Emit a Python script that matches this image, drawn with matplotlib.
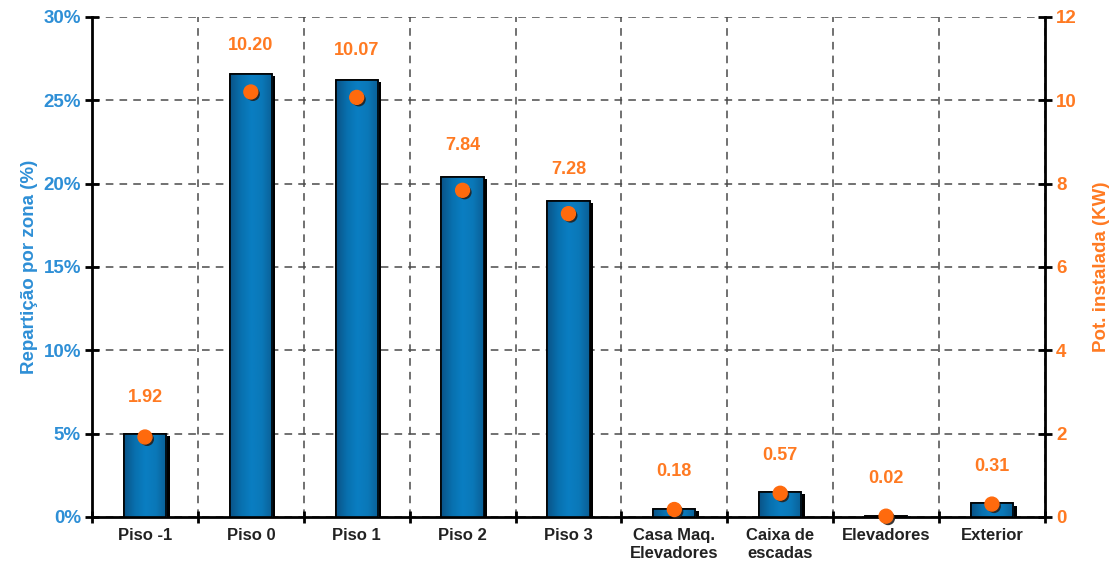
import numpy as np
import matplotlib.pyplot as plt
import matplotlib.patheffects as pe
from matplotlib.colors import LinearSegmentedColormap

plt.rcParams['font.family'] = ['Liberation Sans', 'DejaVu Sans']
plt.rcParams['font.weight'] = 'bold'

# zones, share per zone (%) and installed power (kW)
zonas = ['Piso -1', 'Piso 0', 'Piso 1', 'Piso 2', 'Piso 3',
         'Casa Maq.\nElevadores', 'Caixa de\nescadas', 'Elevadores', 'Exterior']
reparticao = [5.0, 26.6, 26.2, 20.4, 18.95, 0.47, 1.48, 0.05, 0.81]
potencia = [1.92, 10.20, 10.07, 7.84, 7.28, 0.18, 0.57, 0.02, 0.31]

azul = '#2E8FD6'
laranja = '#FF7A22'

fig = plt.figure(figsize=(11.17, 5.77), dpi=100)
ax = fig.add_axes([0.0824, 0.104, 0.853, 0.8666])

x = np.arange(len(zonas)) + 0.5
largura = 0.4

# horizontal shading of the bars: dark edges, bright middle
grad = LinearSegmentedColormap.from_list(
    'barra', ['#0A5488', '#0870AE', '#0A7EC2', '#0A78B8', '#0A5F96'])
img = np.linspace(0, 1, 64).reshape(1, -1)

bars = ax.bar(x, reparticao, width=largura, color='#0A78BA',
              edgecolor='black', linewidth=1.2, zorder=3)
for b in bars:
    b.set_path_effects([pe.SimplePatchShadow(offset=(2.5, -1.5),
                                             shadow_rgbFace='black', alpha=1),
                        pe.Normal()])
    x0, y0 = b.get_x(), b.get_y()
    w, h = b.get_width(), b.get_height()
    im = ax.imshow(img, cmap=grad, aspect='auto',
                   extent=(x0, x0 + w, y0, y0 + h), zorder=3.5)
    im.set_clip_path(b)
    ax.add_patch(plt.Rectangle((x0, y0), w, h, fill=False,
                               edgecolor='black', linewidth=1.2, zorder=3.6))

ax.set_xlim(0, len(zonas))
ax.set_ylim(0, 30)
ax.set_yticks(range(0, 31, 5))
ax.set_yticklabels([f'{v}%' for v in range(0, 31, 5)])
ax.set_xticks(range(0, len(zonas) + 1))
ax.set_xticklabels([])
ax.set_xticks(x, minor=True)
ax.set_xticklabels(zonas, minor=True)
ax.tick_params(axis='x', which='minor', length=0, pad=8, labelsize=12)
ax.tick_params(axis='x', which='major', direction='inout', length=8, width=2)
ax.tick_params(axis='y', direction='inout', length=10, width=2,
               labelcolor=azul, labelsize=13.5, pad=3)
for lab in ax.get_yticklabels():
    lab.set_fontweight('bold')
for lab in ax.get_xticklabels(minor=True):
    lab.set_fontweight('bold')
    lab.set_color('#222222')

ax.grid(True, which='major', color='#4a4a4a', linestyle=(0, (5, 4)),
        linewidth=1.1, zorder=0)
ax.set_axisbelow(True)
for s in ['left', 'right', 'bottom']:
    ax.spines[s].set_linewidth(2)
ax.spines['top'].set_visible(False)
ax.set_ylabel('Repartição por zona (%)', color=azul, fontsize=13.5,
              fontweight='bold', labelpad=4)

ax2 = ax.twinx()
ax2.set_ylim(0, 12)
ax2.set_yticks(range(0, 13, 2))
ax2.tick_params(axis='y', direction='inout', length=10, width=2,
                labelcolor=laranja, labelsize=13.5, pad=3)
for lab in ax2.get_yticklabels():
    lab.set_fontweight('bold')
for s in ['left', 'right', 'bottom', 'top']:
    ax2.spines[s].set_visible(False)
ax2.set_ylabel('Pot. instalada (KW)', color=laranja, fontsize=13.5,
               fontweight='bold', labelpad=12)

ax2.plot(x, potencia, 'o', color='#FF6A0D', markersize=10, zorder=5,
         path_effects=[pe.SimplePatchShadow(offset=(1.5, -1.5),
                                            shadow_rgbFace='#222222', alpha=0.9),
                       pe.Normal()], clip_on=False)
for xi, v in zip(x, potencia):
    ax2.annotate(f'{v:.2f}', (xi, v), xytext=(0, 27 + 0.65 * v),
                 textcoords='offset points', ha='center', va='center',
                 color=laranja, fontsize=13, fontweight='bold')

fig.savefig('out.png', dpi=100)
